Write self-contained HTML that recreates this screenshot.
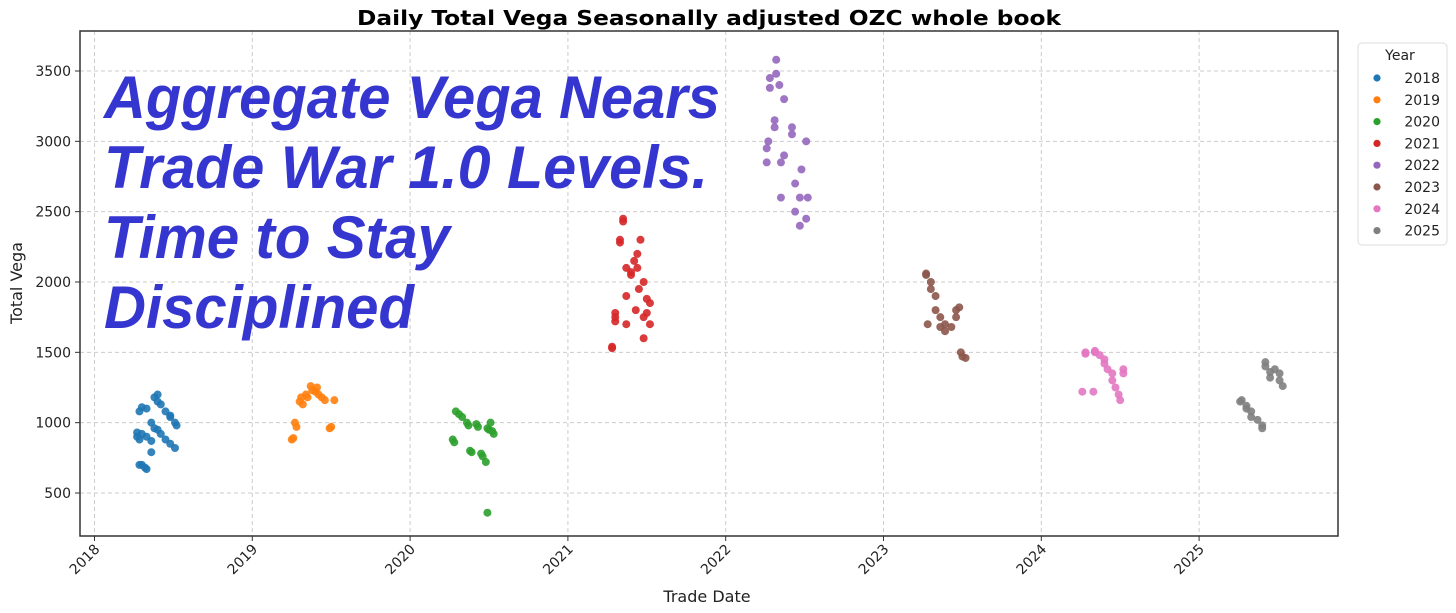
<!DOCTYPE html>
<html><head><meta charset="utf-8">
<style>
html,body{margin:0;padding:0;background:#fff;}
svg{display:block;font-family:"DejaVu Sans","Liberation Sans",sans-serif;}
</style></head>
<body>
<svg id="chart" width="1456" height="613" viewBox="0 0 1456 613" xmlns="http://www.w3.org/2000/svg">
<rect width="1456" height="613" fill="#fff"/>
<text x="357" y="25" font-size="20" font-weight="bold" fill="#000" textLength="704" lengthAdjust="spacingAndGlyphs">Daily Total Vega Seasonally adjusted OZC whole book</text>
<g id="grid"></g>
<g id="points"></g>
<rect x="80" y="31" width="1258" height="505" fill="none" stroke="#333" stroke-width="1.5"/>
<g id="axes"></g>
<text transform="translate(22,283) rotate(-90)" text-anchor="middle" font-size="16" fill="#222">Total Vega</text>
<text x="707" y="602" text-anchor="middle" font-size="16" fill="#222">Trade Date</text>
<g font-family="Liberation Sans, sans-serif" font-size="60" font-weight="bold" font-style="italic" fill="#3535cf">
<text x="104" y="118" textLength="616" lengthAdjust="spacingAndGlyphs">Aggregate Vega Nears</text>
<text x="104" y="188" textLength="604" lengthAdjust="spacingAndGlyphs">Trade War 1.0 Levels.</text>
<text x="104" y="258" textLength="346" lengthAdjust="spacingAndGlyphs">Time to Stay</text>
<text x="104" y="328" textLength="310" lengthAdjust="spacingAndGlyphs">Disciplined</text>
</g>
<g id="legend">
<rect x="1358" y="43" width="89" height="202" rx="4" fill="#fff" stroke="#ddd"/>
<text x="1400" y="60" text-anchor="middle" font-size="14" fill="#222">Year</text>
</g>
</svg>
<script>
const years = [2018,2019,2020,2021,2022,2023,2024,2025];
const colors = ["#1f77b4","#ff7f0e","#2ca02c","#d62728","#9467bd","#8c564b","#e377c2","#7f7f7f"];
const yTicks = [500,1000,1500,2000,2500,3000,3500];
const xTicks = [2018,2019,2020,2021,2022,2023,2024,2025];
const s2018 = [[.27,930],[.27,900],[.285,1080],[.285,880],[.285,700],[.30,1110],[.30,920],[.30,700],[.33,1100],[.33,900],[.33,670],[.32,680],[.36,1000],[.36,870],[.36,790],[.38,1180],[.38,960],[.40,1200],[.40,1150],[.40,950],[.42,1130],[.42,920],[.45,1080],[.45,880],[.48,1050],[.48,1040],[.48,850],[.51,1000],[.51,820],[.52,980]];
const s2019 = [[.25,880],[.26,890],[.27,1000],[.28,970],[.30,1150],[.31,1180],[.32,1130],[.34,1200],[.35,1180],[.37,1260],[.38,1230],[.40,1220],[.41,1250],[.42,1200],[.44,1180],[.46,1160],[.49,960],[.50,970],[.52,1160]];
const s2020 = [[.27,880],[.28,860],[.29,1080],[.31,1060],[.33,1040],[.36,1000],[.37,980],[.38,800],[.39,790],[.42,990],[.43,970],[.45,780],[.46,760],[.48,720],[.49,960],[.50,950],[.53,920],[.49,360],[.51,1000],[.52,940]];
const s2021 = [[.28,1540],[.28,1530],[.30,1780],[.30,1750],[.30,1720],[.33,2280],[.33,2300],[.35,2430],[.35,2450],[.37,2100],[.37,1900],[.37,1700],[.40,2050],[.40,2070],[.42,2150],[.43,1800],[.44,2200],[.44,2100],[.45,1950],[.46,2300],[.48,2000],[.48,1750],[.48,1600],[.50,1880],[.50,1780],[.52,1700],[.52,1850]];
const s2022 = [[.26,2850],[.26,2950],[.27,3000],[.28,3380],[.28,3450],[.31,3150],[.31,3100],[.32,3480],[.32,3580],[.34,3400],[.35,2600],[.35,2850],[.37,3300],[.37,2900],[.42,3100],[.42,3050],[.44,2700],[.44,2500],[.47,2600],[.47,2400],[.48,2800],[.51,2450],[.51,3000],[.52,2600]];
const s2023 = [[.27,2060],[.27,2050],[.28,1700],[.30,2000],[.30,1950],[.33,1900],[.33,1800],[.36,1750],[.36,1680],[.39,1700],[.39,1650],[.43,1680],[.46,1800],[.46,1750],[.48,1820],[.49,1500],[.50,1470],[.52,1460]];
const s2024 = [[.26,1220],[.28,1500],[.28,1490],[.33,1220],[.34,1510],[.34,1500],[.37,1480],[.40,1450],[.40,1420],[.42,1380],[.45,1350],[.45,1300],[.47,1250],[.49,1200],[.50,1160],[.52,1380],[.52,1350]];
const s2025 = [[.26,1150],[.27,1160],[.30,1100],[.30,1120],[.33,1080],[.33,1040],[.37,1020],[.40,980],[.40,960],[.42,1430],[.42,1400],[.45,1360],[.45,1320],[.48,1380],[.51,1350],[.51,1300],[.53,1260]];
const series = [s2018,s2019,s2020,s2021,s2022,s2023,s2024,s2025];

const NS="http://www.w3.org/2000/svg";
const L=80,R=1338,T=31,B=536;
function xs(d){return 94.5+(d-2018)*157.8;}
function ys(v){return 493-(v-500)*0.14067;}
function mk(tag,attrs,parent){const e=document.createElementNS(NS,tag);for(const k in attrs)e.setAttribute(k,attrs[k]);parent.appendChild(e);return e;}
const grid=document.getElementById('grid'),axes=document.getElementById('axes'),pts=document.getElementById('points'),leg=document.getElementById('legend');
yTicks.forEach(v=>{
  const y=ys(v);
  const g=mk('line',{x1:L,x2:R,y1:y,y2:y,stroke:'#ccc','stroke-dasharray':'4,3','stroke-width':1},grid);
  
  
  mk('line',{x1:L-5,x2:L,y1:y,y2:y,stroke:'#333'},axes);
  const t=mk('text',{x:L-9,y:y+5,'text-anchor':'end','font-size':14,fill:'#222'},axes);
  t.textContent=v;
  
  
});
xTicks.forEach(d=>{
  const x=xs(d);
  const g=mk('line',{x1:x,x2:x,y1:T,y2:B,stroke:'#ccc','stroke-dasharray':'4,3','stroke-width':1},grid);
  
  
  mk('line',{x1:x,x2:x,y1:B,y2:B+5,stroke:'#333'},axes);
  const t=mk('text',{x:0,y:0,'text-anchor':'end','font-size':14,fill:'#222',transform:`translate(${x+6},${B+14}) rotate(-45)`},axes);
  t.textContent=d;
  
  
});
series.forEach((s,i)=>{
  s.forEach(p=>{
    const c=mk('circle',{cx:xs(years[i]+p[0]),cy:ys(p[1]),r:4,fill:colors[i],'fill-opacity':0.9},pts);
    
    
  });
});
years.forEach((yr,i)=>{
  const y=78+i*21.8;
  const c=mk('circle',{cx:1377,cy:y,r:3.6,fill:colors[i]},leg);
  
  
  const t=mk('text',{x:1440,y:y+5,'text-anchor':'end','font-size':14,fill:'#222'},leg);
  t.textContent=yr;
  
  
});
</script>
</body></html>
